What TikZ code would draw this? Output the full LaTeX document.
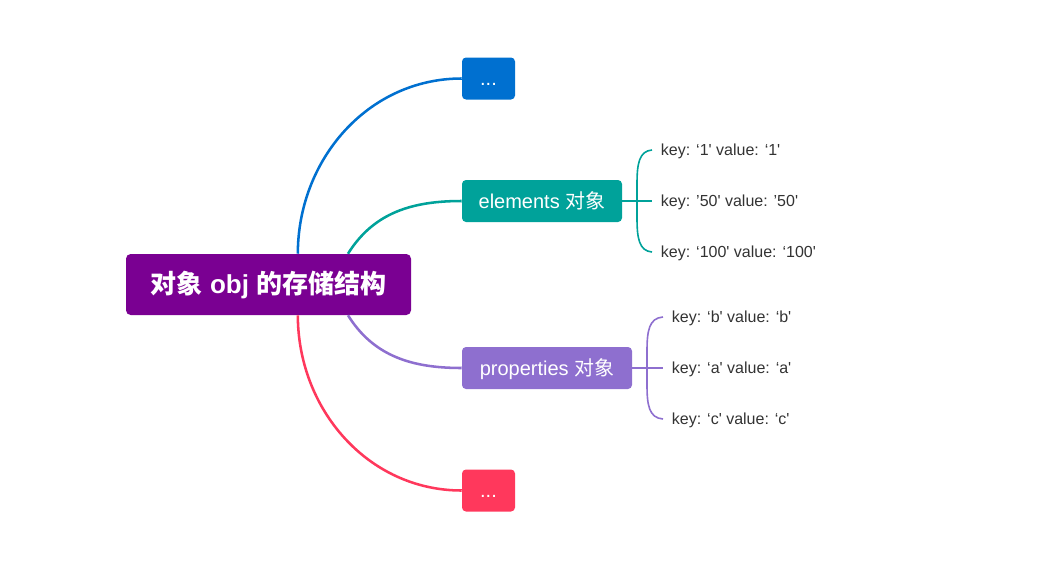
\documentclass[tikz,border=0pt]{standalone}
\usepackage{fontspec}
\setmainfont{Liberation Sans}[Ligatures=TeXOff]
\newfontfamily\cjk{Noto Sans CJK SC}
\usetikzlibrary{positioning,calc}

\definecolor{rootpurple}{RGB}{122,0,146}
\definecolor{mapblue}{RGB}{0,112,208}
\definecolor{mapteal}{RGB}{0,162,154}
\definecolor{maplilac}{RGB}{142,111,207}
\definecolor{mapred}{RGB}{255,56,92}
\definecolor{leafgray}{RGB}{51,51,51}

\begin{document}
\begin{tikzpicture}[
  x=0.75pt, y=-0.75pt,
  rootbox/.style={fill=rootpurple, text=white, rounded corners=3.5pt, font=\fontsize{19.5}{22}\selectfont\bfseries,
    minimum width=213.75pt, minimum height=45.75pt, inner sep=0pt},
  topic/.style={fill=#1, text=white, rounded corners=3pt, font=\fontsize{15}{17}\selectfont,
    minimum height=31.5pt, inner xsep=11pt, inner ysep=0pt, text height=13pt, text depth=2pt},
  leaf/.style={anchor=west, text=leafgray, font=\fontsize{12}{14}\selectfont, inner xsep=6.5pt, inner ysep=0pt,
    text height=10pt, text depth=2.5pt},
  branch/.style={line width=1.9pt, draw=#1},
  twig/.style={line width=1.2pt, draw=#1},
]
  \useasboundingbox (0,0) rectangle (1044,582);

  % central topic
  \node[rootbox] (root) at (268.5,284.5) {{\cjk 对象} obj {\cjk 的存储结构}};

  % main topics
  \node[topic=mapblue, minimum width=39.75pt] (topmore) at (488.5,78.5) {...};
  \node[topic=mapteal, minimum width=120pt] (elements) at (542,201) {elements {\cjk 对象}};
  \node[topic=maplilac, minimum width=127.5pt] (props) at (547,368) {properties {\cjk 对象}};
  \node[topic=mapred, minimum width=39.75pt] (botmore) at (488.5,490.5) {...};

  % branches
  \draw[branch=mapblue] ([xshift=22pt]root.north) to[out=90, in=180] (topmore.west);
  \draw[branch=mapteal] ([xshift=59.6pt]root.north) to[out=58, in=180] (elements.west);
  \draw[branch=maplilac] ([xshift=59.6pt]root.south) to[out=-58, in=180] (props.west);
  \draw[branch=mapred] ([xshift=22pt]root.south) to[out=-90, in=180] (botmore.west);

  % elements
  \node[leaf] (k1) at (652,150) {key: ‘1' value: ‘1'};
  \node[leaf] (k50) at (652,201) {key: ’50' value: ’50'};
  \node[leaf] (k100) at (652,252) {key: ‘100' value: ‘100'};
  \draw[twig=mapteal] (elements.east) -- (k50.west);
  \draw[twig=mapteal] (k1.west) .. controls (639,151) and (637,164) .. (637,184) -- (637,218) .. controls (637,238) and (639,251) .. (k100.west);

  % properties
  \node[leaf] (kb) at (663,317) {key: ‘b' value: ‘b'};
  \node[leaf] (ka) at (663,368) {key: ‘a' value: ‘a'};
  \node[leaf] (kc) at (663,419) {key: ‘c' value: ‘c'};
  \draw[twig=maplilac] (props.east) -- (ka.west);
  \draw[twig=maplilac] (kb.west) .. controls (649,318) and (647,331) .. (647,351) -- (647,385) .. controls (647,405) and (649,418) .. (kc.west);
\end{tikzpicture}
\end{document}
